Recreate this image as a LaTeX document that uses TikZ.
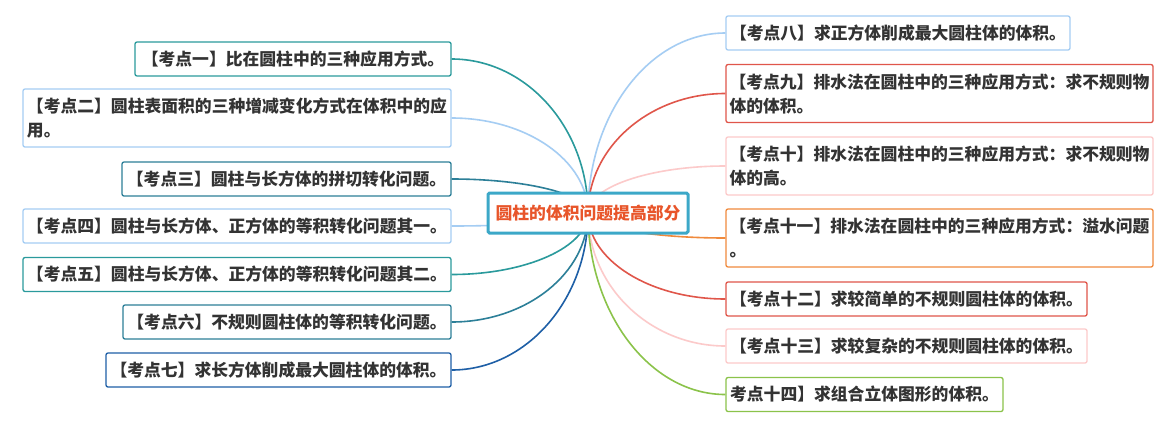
\documentclass[tikz,border=0pt]{standalone}
\usepackage{fontspec}
\newfontfamily\cjk{Noto Sans CJK SC}
\usetikzlibrary{calc,backgrounds}
\definecolor{txt}{HTML}{333333}
\definecolor{cteal}{HTML}{2A9A9C}
\definecolor{clblue}{HTML}{A5CDF3}
\definecolor{cdteal}{HTML}{2C7F98}
\definecolor{cblue}{HTML}{1E5FA6}
\definecolor{cred}{HTML}{E0564A}
\definecolor{cpink}{HTML}{FCCACA}
\definecolor{corange}{HTML}{F08A3C}
\definecolor{cgreen}{HTML}{8BC34A}
\definecolor{rootborder}{HTML}{3CA8C8}
\definecolor{roottext}{HTML}{E8552A}
\newcommand\branchline[3]{%
  \draw[conn,#1] (root.center) .. controls ($(root.center)!0.55!(root.center|-#2.#3)$) and ($(#2.#3)!0.55!(root.center|-#2.#3)$) .. (#2.#3);}
\begin{document}
\begin{tikzpicture}[x=1pt,y=-1pt,
  box/.style={draw, fill=white, line width=1.3pt, rounded corners=2pt, inner sep=0pt,
    minimum height=34pt, text=txt, font=\cjk\bfseries\fontsize{16.8}{24}\selectfont, align=left},
  tall/.style={minimum height=58pt},
  rootbox/.style={draw=rootborder, fill=white, line width=3pt, rounded corners=1.5pt, inner sep=0pt,
    minimum width=200pt, minimum height=40pt, text=roottext, font=\cjk\bfseries\fontsize{16.8}{24}\selectfont},
  conn/.style={line width=1.6pt}]
\useasboundingbox (0,0) rectangle (1167,421);

\node[rootbox] (root) at (588,213) {圆柱的体积问题提高部分};

\node[box, draw=cteal, minimum width=316pt] (k1) at (293,59) {【考点一】比在圆柱中的三种应用方式。};
\node[box, tall, draw=clblue, minimum width=428pt] (k2) at (237,118) {【考点二】圆柱表面积的三种增减变化方式在体积中的应\\用。};
\node[box, draw=cdteal, minimum width=329pt] (k3) at (286.5,179) {【考点三】圆柱与长方体的拼切转化问题。};
\node[box, draw=clblue, minimum width=428pt] (k4) at (237,226) {【考点四】圆柱与长方体、正方体的等积转化问题其一。};
\node[box, draw=cteal, minimum width=428pt] (k5) at (237,274.5) {【考点五】圆柱与长方体、正方体的等积转化问题其二。};
\node[box, draw=cdteal, minimum width=328pt] (k6) at (287,322) {【考点六】不规则圆柱体的等积转化问题。};
\node[box, draw=cblue, minimum width=345pt] (k7) at (278.5,370) {【考点七】求长方体削成最大圆柱体的体积。};

\node[box, draw=clblue, minimum width=344pt] (k8) at (898,33) {【考点八】求正方体削成最大圆柱体的体积。};
\node[box, tall, draw=cred, minimum width=427pt] (k9) at (939.5,93.5) {【考点九】排水法在圆柱中的三种应用方式：求不规则物\\体的体积。};
\node[box, tall, draw=cpink, minimum width=427pt] (k10) at (939.5,166) {【考点十】排水法在圆柱中的三种应用方式：求不规则物\\体的高。};
\node[box, tall, draw=corange, minimum width=427pt] (k11) at (939.5,238) {【考点十一】排水法在圆柱中的三种应用方式：溢水问题\\。};
\node[box, draw=cred, minimum width=361pt] (k12) at (906.5,299) {【考点十二】求较简单的不规则圆柱体的体积。};
\node[box, draw=cpink, minimum width=361pt] (k13) at (906.5,346) {【考点十三】求较复杂的不规则圆柱体的体积。};
\node[box, draw=cgreen, minimum width=277pt] (k14) at (864.5,394.5) {考点十四】求组合立体图形的体积。};

\begin{pgfonlayer}{background}
\fill[white] (0,0) rectangle (1167,421);
\branchline{cteal}{k1}{east}
\branchline{clblue}{k2}{east}
\branchline{cdteal}{k3}{east}
\branchline{clblue}{k4}{east}
\branchline{cteal}{k5}{east}
\branchline{cdteal}{k6}{east}
\branchline{cblue}{k7}{east}
\branchline{clblue}{k8}{west}
\branchline{cred}{k9}{west}
\branchline{cpink}{k10}{west}
\branchline{corange}{k11}{west}
\branchline{cred}{k12}{west}
\branchline{cpink}{k13}{west}
\branchline{cgreen}{k14}{west}
\end{pgfonlayer}
\end{tikzpicture}
\end{document}
